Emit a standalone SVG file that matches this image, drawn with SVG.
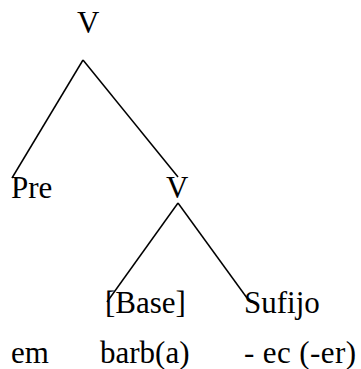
<svg xmlns="http://www.w3.org/2000/svg" width="361" height="369" viewBox="0 0 361 369">
<style>
.t{font-size:31px;fill:#000;font-family:"Liberation Serif","Times New Roman",serif}
.e{stroke:#000;stroke-width:1.5;fill:none}
</style>
<rect width="361" height="369" fill="#fff"/>
<g id="connectors">
<line class="e" x1="83" y1="60" x2="12" y2="178"/>
<line class="e" x1="83" y1="60" x2="178" y2="177"/>
<line class="e" x1="178" y1="203" x2="107" y2="302"/>
<line class="e" x1="178" y1="203" x2="247" y2="298"/>
</g>
<g id="v-top"><text class="t" x="77" y="33">V</text></g>
<g id="pre"><text class="t" x="11" y="198">Pre</text></g>
<g id="v-mid"><text class="t" x="166" y="198">V</text></g>
<g id="base"><text class="t" x="105" y="313">[Base]</text></g>
<g id="sufijo"><text class="t" x="244" y="313">Sufijo</text></g>
<g id="em"><text class="t" x="11" y="363">em</text></g>
<g id="barba"><text class="t" x="100" y="363">barb(a)</text></g>
<g id="ec"><text class="t" x="244" y="363" textLength="112">- ec (-er)</text></g>
</svg>
